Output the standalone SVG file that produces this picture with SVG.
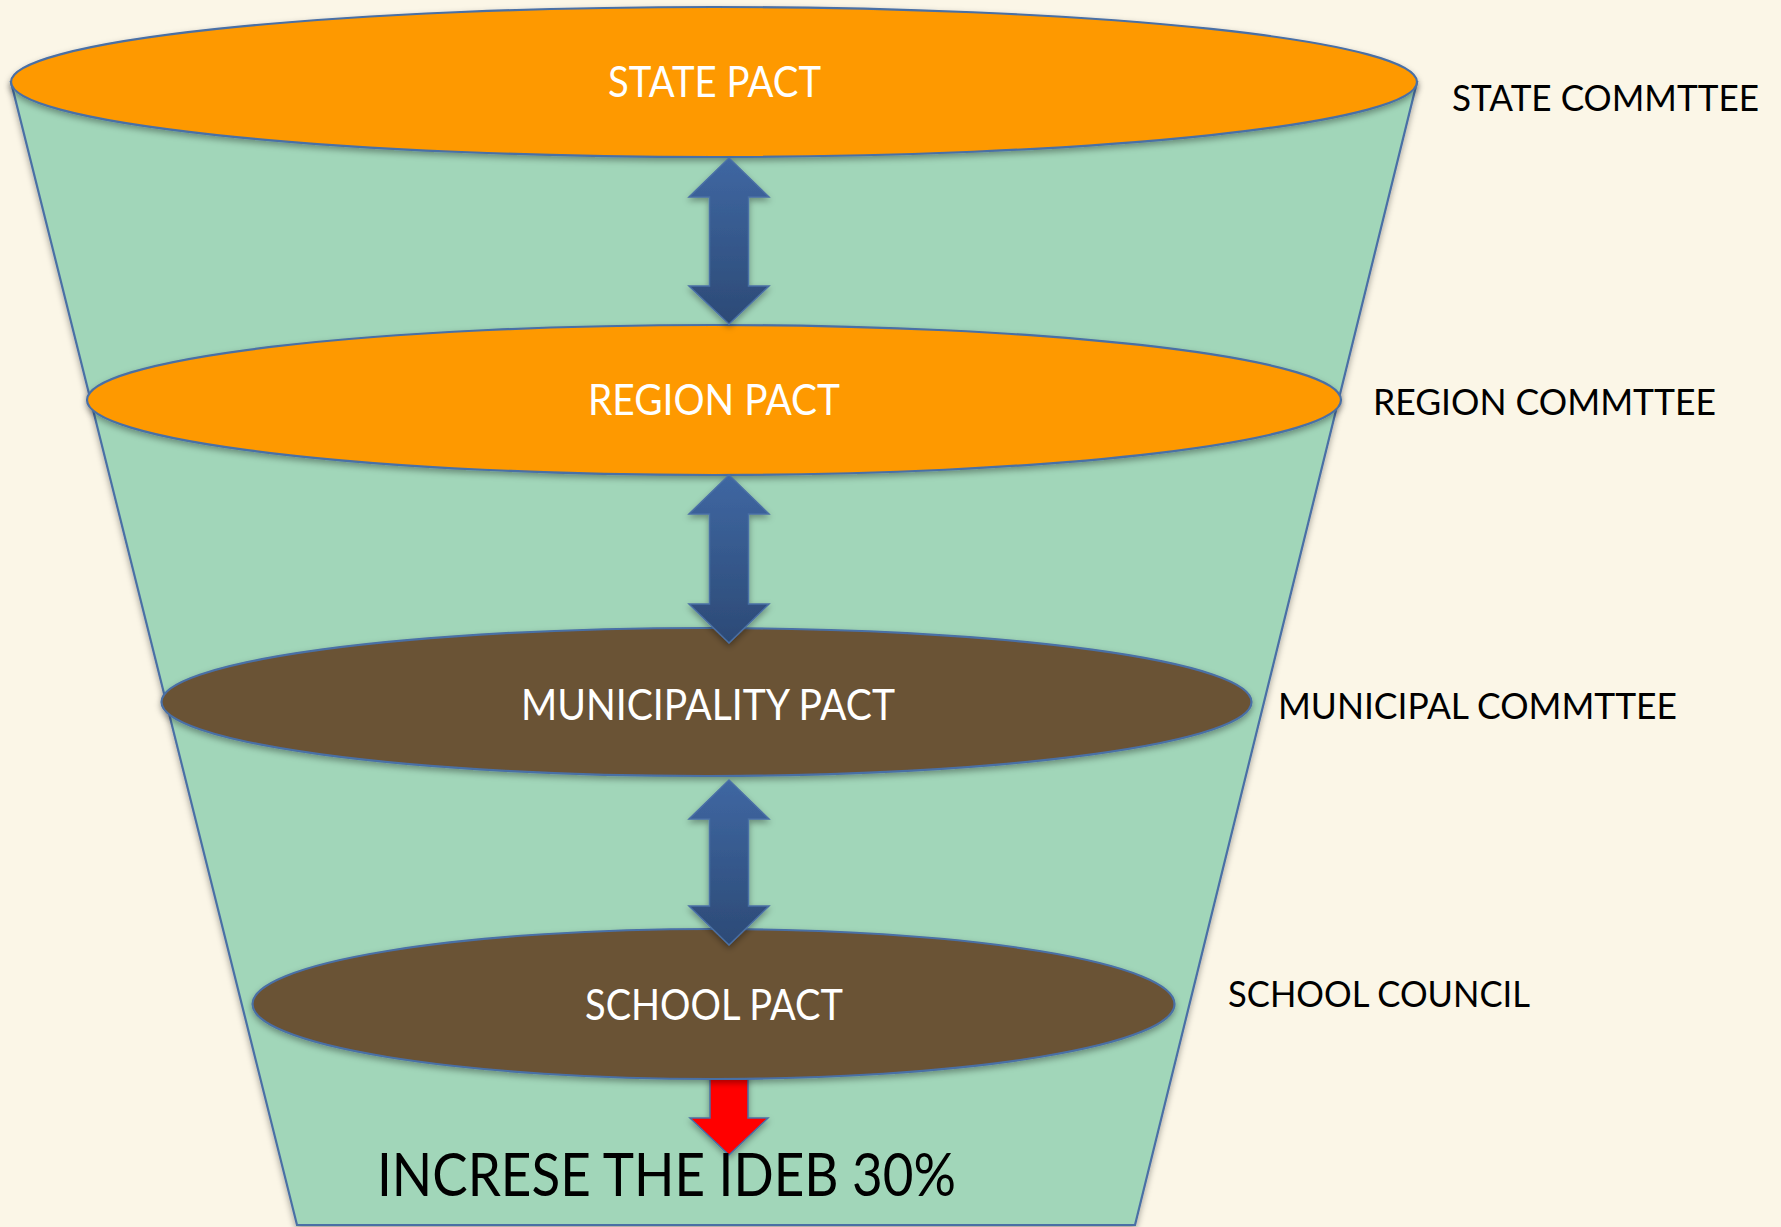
<svg xmlns="http://www.w3.org/2000/svg" width="1781" height="1227" viewBox="0 0 1781 1227">
  <defs>
    <linearGradient id="arrowGrad" x1="0" y1="0" x2="0" y2="1">
      <stop offset="0" stop-color="#3F67A2"/>
      <stop offset="1" stop-color="#2C4A76"/>
    </linearGradient>
    <filter id="shadow" x="-10%" y="-20%" width="120%" height="150%">
      <feDropShadow dx="0" dy="3" stdDeviation="3" flood-color="#000" flood-opacity="0.35"/>
    </filter>
    <style>
      .edge { stroke: #4A6FA5; stroke-width: 2.2; }
      .orange { fill: #FE9900; }
      .brown { fill: #6B5234; }
      .dbl { fill: url(#arrowGrad); stroke: #4A6FA5; stroke-width: 1.5; filter: url(#shadow); }
      .pact { font-family: Lato, "Liberation Sans", sans-serif; font-size: 42px; fill: #FFFFFF; }
      .side { font-family: Lato, "Liberation Sans", sans-serif; font-size: 37px; fill: #000000; }
      .goal { font-family: Lato, "Liberation Sans", sans-serif; font-size: 60px; fill: #000000; }
    </style>
  </defs>
  <rect x="0" y="0" width="1781" height="1227" fill="#FBF6E7"/>

  <g id="funnel">
    <polygon points="11,82 1417,82 1135,1225 297,1225" fill="#A1D6B9" class="edge" filter="url(#shadow)"/>
  </g>

  <g id="connectors">
    <path id="goal-arrow" d="M710,1070 L748,1070 L748,1118 L768,1118 L729,1155 L690,1118 L710,1118 Z" fill="#FF0000" stroke="#4A6FA5" stroke-width="1.5" filter="url(#shadow)"/>
  </g>

  <g id="state-pact">
    <ellipse cx="714" cy="82" rx="703" ry="75" class="orange edge" filter="url(#shadow)"/>
  </g>
  <g id="region-pact">
    <ellipse cx="714" cy="400" rx="627" ry="75" class="orange edge" filter="url(#shadow)"/>
  </g>
  <g id="municipality-pact">
    <ellipse cx="706.5" cy="702" rx="545" ry="74" class="brown edge" filter="url(#shadow)"/>
  </g>
  <g id="school-pact">
    <ellipse cx="713.5" cy="1004" rx="461" ry="75" class="brown edge" filter="url(#shadow)"/>
  </g>

  <g id="double-arrows">
    <path class="dbl" d="M729,158 L769,197 L748.5,197 L748.5,286 L769,286 L729,324 L689,286 L709.5,286 L709.5,197 L689,197 Z"/>
    <path class="dbl" d="M729,475 L769,514 L748.5,514 L748.5,604 L769,604 L729,643 L689,604 L709.5,604 L709.5,514 L689,514 Z"/>
    <path class="dbl" d="M729,780 L769,819 L748.5,819 L748.5,906 L769,906 L729,945 L689,906 L709.5,906 L709.5,819 L689,819 Z"/>
  </g>

  <g id="labels">
    <text class="pact" x="608" y="97" textLength="213" lengthAdjust="spacingAndGlyphs">STATE PACT</text>
    <text class="pact" x="588" y="415" textLength="252" lengthAdjust="spacingAndGlyphs">REGION PACT</text>
    <text class="pact" x="521" y="720" textLength="374" lengthAdjust="spacingAndGlyphs">MUNICIPALITY PACT</text>
    <text class="pact" x="585" y="1020" textLength="258" lengthAdjust="spacingAndGlyphs">SCHOOL PACT</text>

    <text class="side" x="1452" y="111" textLength="307" lengthAdjust="spacingAndGlyphs">STATE COMMTTEE</text>
    <text class="side" x="1373" y="415" textLength="343" lengthAdjust="spacingAndGlyphs">REGION COMMTTEE</text>
    <text class="side" x="1278" y="719" textLength="399" lengthAdjust="spacingAndGlyphs">MUNICIPAL COMMTTEE</text>
    <text class="side" x="1228" y="1007" textLength="302" lengthAdjust="spacingAndGlyphs">SCHOOL COUNCIL</text>

    <text class="goal" x="377" y="1196" textLength="579" lengthAdjust="spacingAndGlyphs">INCRESE THE IDEB 30%</text>
  </g>
</svg>
